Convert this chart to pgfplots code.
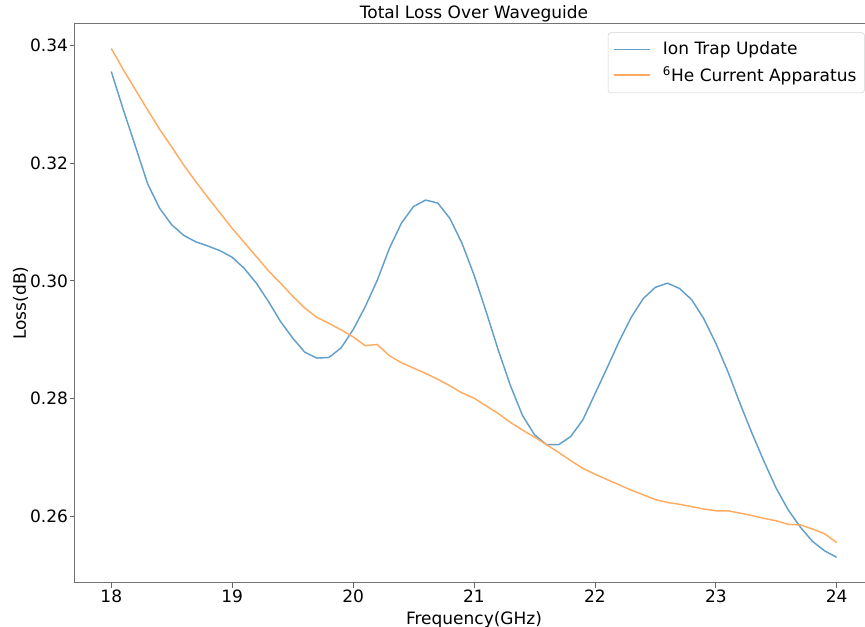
\documentclass[border=0pt]{standalone}
\usepackage{pgfplots}
\pgfplotsset{compat=1.18}
\usepackage{pgfplotstable}
\usepackage{fontspec}
\setmainfont{DejaVu Sans}
\definecolor{mblue}{HTML}{1F77B4}
\definecolor{morange}{HTML}{FF7F0E}
\newcommand\ff{\fontsize{12.75}{15.3}\selectfont}

\pgfplotstableread{
f v
18.0 0.3355
18.1 0.3290
18.2 0.3228
18.3 0.3165
18.4 0.3123
18.5 0.3095
18.6 0.3077
18.7 0.3066
18.8 0.3059
18.9 0.3051
19.0 0.3040
19.1 0.3021
19.2 0.2996
19.3 0.2965
19.4 0.2931
19.5 0.2903
19.6 0.2879
19.7 0.2869
19.8 0.2870
19.9 0.2886
20.0 0.2917
20.1 0.2956
20.2 0.3001
20.3 0.3055
20.4 0.3098
20.5 0.3126
20.6 0.3137
20.7 0.3132
20.8 0.3106
20.9 0.3064
21.0 0.3010
21.1 0.2948
21.2 0.2883
21.3 0.2823
21.4 0.2772
21.5 0.2739
21.6 0.2722
21.7 0.2722
21.8 0.2736
21.9 0.2764
22.0 0.2808
22.1 0.2852
22.2 0.2897
22.3 0.2938
22.4 0.2970
22.5 0.2989
22.6 0.2996
22.7 0.2987
22.8 0.2968
22.9 0.2936
23.0 0.2894
23.1 0.2846
23.2 0.2792
23.3 0.2741
23.4 0.2693
23.5 0.2648
23.6 0.2611
23.7 0.2582
23.8 0.2558
23.9 0.2542
24.0 0.2531
}\iontrap

\pgfplotstableread{
f v
18.0 0.3394
18.1 0.3358
18.2 0.3324
18.3 0.3290
18.4 0.3257
18.5 0.3227
18.6 0.3196
18.7 0.3168
18.8 0.3141
18.9 0.3115
19.0 0.3089
19.1 0.3065
19.2 0.3041
19.3 0.3017
19.4 0.2996
19.5 0.2974
19.6 0.2954
19.7 0.2938
19.8 0.2928
19.9 0.2917
20.0 0.2905
20.1 0.2890
20.2 0.2892
20.3 0.2873
20.4 0.2861
20.5 0.2852
20.6 0.2843
20.7 0.2833
20.8 0.2822
20.9 0.2810
21.0 0.2801
21.1 0.2788
21.2 0.2775
21.3 0.2760
21.4 0.2747
21.5 0.2735
21.6 0.2722
21.7 0.2709
21.8 0.2695
21.9 0.2682
22.0 0.2672
22.1 0.2663
22.2 0.2654
22.3 0.2645
22.4 0.2637
22.5 0.2629
22.6 0.2624
22.7 0.2621
22.8 0.2617
22.9 0.2613
23.0 0.2610
23.1 0.2610
23.2 0.2606
23.3 0.2602
23.4 0.2597
23.5 0.2593
23.6 0.2587
23.7 0.2586
23.8 0.2579
23.9 0.2571
24.0 0.2556
}\current

\begin{document}
\begin{tikzpicture}[font=\ff]
\begin{axis}[
  scale only axis,
  width=598.5pt, height=419.775pt,
  xmin=17.7, xmax=24.3,
  ymin=0.24875, ymax=0.34368,
  xtick={18,19,20,21,22,23,24},
  xticklabels={18,19,20,21,22,23,24},
  ytick={0.26,0.28,0.30,0.32,0.34},
  yticklabels={0.26,0.28,0.30,0.32,0.34},
  xtick pos=left, ytick pos=left,
  tick align=outside,
  major tick length=3.75pt,
  tick style={color=black!60, line width=0.6pt},
  axis line style={draw=black!55, line width=0.75pt},
  xticklabel style={anchor=base, yshift=-11pt, inner sep=0pt},
  yticklabel style={anchor=east, inner sep=0pt, xshift=-1.3pt},
  title={Total Loss Over Waveguide},
  title style={at={(axis description cs:0.5,1)}, anchor=base, yshift=-2.5pt, inner sep=0pt},
  xlabel={Frequency(GHz)},
  xlabel style={at={(axis description cs:0.5,-0.0733)}, anchor=base, inner sep=0pt},
  ylabel={Loss(dB)},
  ylabel style={at={(axis description cs:-0.0614,0.5)}, anchor=base, inner sep=0pt},
  legend style={at={(0.9896,0.9839)}, anchor=north east,
    draw=black!18, rounded corners=2pt, fill=white,
    inner xsep=4pt, inner ysep=5pt, row sep=3.5pt, column sep=7pt,
    font=\ff, cells={anchor=west}},
  legend image code/.code={\draw[#1] (0pt,0pt) -- (27pt,0pt);},
]
\addplot[color=mblue!70!white, line width=1.1pt] table[x=f,y=v] {\iontrap};
\addlegendentry{Ion Trap Update}
\addplot[color=morange!65!white, line width=1.1pt] table[x=f,y=v] {\current};
\addlegendentry{\textsuperscript{6}He Current Apparatus}
\end{axis}
\pgfresetboundingbox
\path[use as bounding box] (-56.25pt,-33pt) rectangle (592.5pt,437.25pt);
\end{tikzpicture}
\end{document}
